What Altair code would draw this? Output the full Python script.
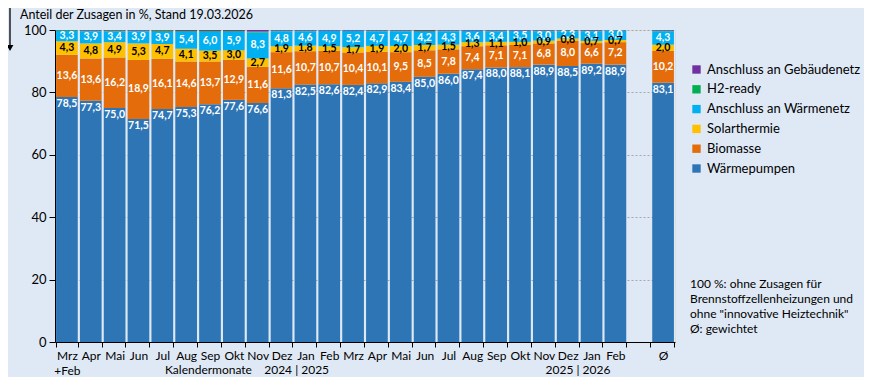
import json
import altair as alt
import pandas as pd

# ---------------- data ----------------
slot_labels = ["Mrz|+Feb", "Apr", "Mai", "Jun", "Jul", "Aug", "Sep", "Okt", "Nov", "Dez",
               "Jan", "Feb", "Mrz", "Apr", "Mai", "Jun", "Jul", "Aug", "Sep", "Okt",
               "Nov", "Dez", "Jan", "Feb", "", "Ø"]
# slot index for every bar (slot 24 is the empty gap)
bar_slots = list(range(24)) + [25]

waermepumpen = [78.5, 77.3, 75.0, 71.5, 74.7, 75.3, 76.2, 77.6, 76.6, 81.3, 82.5, 82.6,
                82.4, 82.9, 83.4, 85.0, 86.0, 87.4, 88.0, 88.1, 88.9, 88.5, 89.2, 88.9, 83.1]
biomasse = [13.6, 13.6, 16.2, 18.9, 16.1, 14.6, 13.7, 12.9, 11.6, 11.6, 10.7, 10.7,
            10.4, 10.1, 9.5, 8.5, 7.8, 7.4, 7.1, 7.1, 6.8, 8.0, 6.6, 7.2, 10.2]
solarthermie = [4.3, 4.8, 4.9, 5.3, 4.7, 4.1, 3.5, 3.0, 2.7, 1.9, 1.8, 1.5,
                1.7, 1.9, 2.0, 1.7, 1.5, 1.3, 1.1, 1.0, 0.9, 0.8, 0.7, 0.7, 2.0]
waermenetz = [3.3, 3.9, 3.4, 3.9, 3.9, 5.4, 6.0, 5.9, 8.3, 4.8, 4.6, 4.9,
              5.2, 4.7, 4.7, 4.2, 4.3, 3.6, 3.4, 3.5, 3.0, 2.3, 3.1, 3.0, 4.3]
h2_ready = [0.2, 0.2, 0.3, 0.2, 0.4, 0.3, 0.3, 0.3, 0.3, 0.2, 0.2, 0.1,
            0.1, 0.2, 0.2, 0.3, 0.2, 0.1, 0.2, 0.1, 0.2, 0.2, 0.2, 0.1, 0.2]
gebaeudenetz = [0.1, 0.2, 0.2, 0.2, 0.2, 0.3, 0.3, 0.3, 0.5, 0.2, 0.2, 0.2,
                0.2, 0.2, 0.2, 0.3, 0.2, 0.2, 0.2, 0.2, 0.2, 0.2, 0.2, 0.1, 0.2]

series_names = ["Wärmepumpen", "Biomasse", "Solarthermie", "Anschluss an Wärmenetz",
                "H2-ready", "Anschluss an Gebäudenetz"]
series_values = [waermepumpen, biomasse, solarthermie, waermenetz, h2_ready, gebaeudenetz]
series_colors = ["#2e75b6", "#e46c0a", "#ffc000", "#00b0f0", "#00b050", "#7030a0"]

note_lines = ["100 %: ohne Zusagen für", "Brennstoffzellenheizungen und",
              "ohne \"innovative Heiztechnik\"", "Ø: gewichtet"]
y_title = "Anteil der Zusagen in %, Stand 19.03.2026"
x_title_1 = "Kalendermonate\u00a0\u00a0\u00a0\u00a02024 | 2025"
x_title_2 = "2025 | 2026"

# ---------------- tables ----------------
rows = []
for i, s in enumerate(bar_slots):
    lo = 0.0
    for k, (name, vals) in enumerate(zip(series_names, series_values)):
        v = vals[i]
        rows.append({"slot": s, "series": name, "value": v, "ord": k,
                     "lo": lo, "hi": lo + v, "mid": lo + v / 2,
                     "label": f"{v:.1f}".replace(".", ",")})
        lo += v
df = pd.DataFrame(rows)

FONT = "Lato"
x_label_expr = ("isValid(datum.value) ? split(" + json.dumps(slot_labels)
                + "[datum.value], '|') : ''")

x_enc = alt.X("slot:O",
              scale=alt.Scale(domain=list(range(len(slot_labels))), paddingInner=0.09, paddingOuter=0.045),
              axis=alt.Axis(title=None, labelExpr=x_label_expr, labelAngle=0, tickBand="extent",
                            labelFontSize=12, labelColor="#000000", domainColor="#000000",
                            tickColor="#000000", tickSize=5, labelPadding=3, labelFont=FONT,
                            labelLineHeight=15))

y_axis = alt.Axis(title=None, values=list(range(0, 101, 5)),
                  labelExpr="datum.value % 20 === 0 ? datum.label : ''",
                  tickSize={"condition": {"test": "datum.value % 10 === 0", "value": 6}, "value": 0},
                  grid=True,
                  gridColor={"condition": {"test": "datum.value % 20 === 0", "value": "#a8a8a8"},
                             "value": "#e8e8e8"},
                  gridDash={"condition": {"test": "datum.value % 20 === 0", "value": [2, 2]},
                            "value": [1, 0]},
                  labelFontSize=13, labelColor="#000000", domainColor="#000000",
                  tickColor="#000000", labelPadding=3, labelFont=FONT)

bars = alt.Chart(df).mark_bar().encode(
    x=x_enc,
    y=alt.Y("value:Q", stack="zero", scale=alt.Scale(domain=[0, 100], nice=False), axis=y_axis),
    color=alt.Color("series:N",
                    scale=alt.Scale(domain=series_names[::-1], range=series_colors[::-1]),
                    legend=alt.Legend(title=None, orient="none", legendX=635, legendY=33,
                                      symbolType="square", symbolSize=70, symbolStrokeWidth=0,
                                      labelFontSize=13, labelFont=FONT, labelColor="#000000",
                                      rowPadding=5.8, labelLimit=250, symbolOffset=0)),
    order=alt.Order("ord:Q", sort="ascending"),
)

lab_size = 10.5
wp_text = alt.Chart(df).transform_filter(alt.datum.series == "Wärmepumpen").mark_text(
    baseline="top", dy=2, fontSize=lab_size, fontWeight="bold", color="white", font=FONT
).encode(x=alt.X("slot:O"), y=alt.Y("hi:Q"), text="label:N")

mid_white = alt.Chart(df).transform_filter(
    (alt.datum.series == "Biomasse") | (alt.datum.series == "Anschluss an Wärmenetz")
).mark_text(baseline="middle", fontSize=lab_size, fontWeight="bold", color="white", font=FONT
            ).encode(x=alt.X("slot:O"), y=alt.Y("mid:Q"), text="label:N")

mid_black = alt.Chart(df).transform_filter(alt.datum.series == "Solarthermie").mark_text(
    baseline="middle", fontSize=lab_size, fontWeight="bold", color="black", font=FONT
).encode(x=alt.X("slot:O"), y=alt.Y("mid:Q"), text="label:N")

ann = pd.DataFrame({"t": [y_title]})
title_txt = alt.Chart(ann).mark_text(align="left", baseline="middle", fontSize=12.5, font=FONT,
                                     color="#000000").encode(
    x=alt.value(-35), y=alt.value(-15), text="t:N")

arrow_line = alt.Chart(ann).mark_rule(color="black", strokeWidth=1.3).encode(
    x=alt.value(-45), y=alt.value(-22), y2=alt.value(18))
arrow_head = alt.Chart(ann).mark_point(shape="triangle-down", filled=True, size=45,
                                       color="black", opacity=1).encode(
    x=alt.value(-45), y=alt.value(18))

xt1 = alt.Chart(pd.DataFrame({"t": [x_title_1]})).mark_text(
    align="center", baseline="middle", fontSize=12, font=FONT, color="#000000").encode(
    x=alt.value(192), y=alt.value(340), text="t:N")
xt2 = alt.Chart(pd.DataFrame({"t": [x_title_2]})).mark_text(
    align="center", baseline="middle", fontSize=12, font=FONT, color="#000000").encode(
    x=alt.value(523), y=alt.value(340), text="t:N")

note = alt.Chart(pd.DataFrame({"t": ["\n".join(note_lines)]})).mark_text(
    align="left", baseline="top", fontSize=12, font=FONT, color="#000000",
    lineBreak="\n", lineHeight=15).encode(
    x=alt.value(635), y=alt.value(249), text="t:N")

chart = alt.layer(bars, wp_text, mid_white, mid_black, title_txt, arrow_line, arrow_head,
                  xt1, xt2, note).properties(
    width=620, height=312,
    autosize=alt.AutoSizeParams(type="none"),
    padding={"left": 47, "top": 22, "right": 189, "bottom": 35},
    background="#dfe9f5",
).configure_view(fill="white", strokeOpacity=0).configure(font=FONT)

chart.save("out.html", embed_options={"renderer": "svg", "actions": False})
